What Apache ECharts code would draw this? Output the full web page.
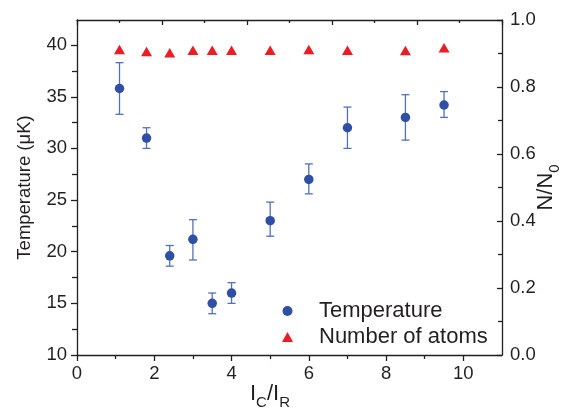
<!DOCTYPE html>
<html>
<head>
<meta charset="utf-8">
<script src="https://cdn.jsdelivr.net/npm/echarts@6/dist/echarts.min.js"></script>
<style>
  html, body { margin: 0; padding: 0; background: #ffffff; }
  #chart { width: 571px; height: 412px; }
</style>
</head>
<body>
<div id="chart"></div>
<script>
// Current ratio I_C / I_R for each measurement
const ratio = [1.1, 1.8, 2.4, 3.0, 3.5, 4.0, 5.0, 6.0, 7.0, 8.5, 9.5];
// Measured temperature (μK) with lower / upper error limits
const temperature = [35.8, 31.0, 19.6, 21.2, 15.0, 16.0, 23.0, 27.0, 32.0, 33.0, 34.2];
const tempLow = [33.3, 30.0, 18.6, 19.2, 14.0, 15.0, 21.5, 25.6, 30.0, 30.8, 33.0];
const tempHigh = [38.3, 32.0, 20.6, 23.1, 16.0, 17.0, 24.8, 28.5, 34.0, 35.2, 35.5];
// Remaining atom fraction N/N0
const atomFraction = [0.912, 0.906, 0.902, 0.910, 0.910, 0.910, 0.910, 0.912, 0.910, 0.909, 0.917];
// Labelled (major) and unlabelled (minor) ticks
const xTicks = [0, 2, 4, 6, 8, 10];
const xMinorTicks = [1, 3, 5, 7, 9];
const tempTicks = [10, 15, 20, 25, 30, 35, 40];
const tempMinorTicks = [12.5, 17.5, 22.5, 27.5, 32.5, 37.5];
const fracTicks = [0, 0.2, 0.4, 0.6, 0.8, 1.0];

const INK = '#231f20';
const FONT = '"Liberation Sans", Arial, Helvetica, sans-serif';
const BLUE = '#2f4fa7';
const BAR = '#5370bb';
const RED = '#ec1c24';

const X_RANGE = [0, 11];
const T_RANGE = [10, 42.43];

const tempPoints = ratio.map((x, i) => [x, temperature[i]]);
const tempBars = ratio.map((x, i) => [x, tempLow[i], tempHigh[i]]);
const fracPoints = ratio.map((x, i) => [x, atomFraction[i]]);

const axisLine = { show: true, onZero: false, lineStyle: { color: INK, width: 1.3 } };
const tickLine = { color: INK, width: 1.3 };
const subRich = {
  n: { fontSize: 22, fontFamily: FONT, color: INK, verticalAlign: 'top', lineHeight: 24 },
  s: { fontSize: 15, fontFamily: FONT, color: INK, verticalAlign: 'top', padding: [12, 0, 0, 0] }
};

const chart = echarts.init(document.getElementById('chart'), null, { renderer: 'canvas' });
chart.setOption({
  animation: false,
  backgroundColor: '#ffffff',
  textStyle: { fontFamily: FONT, color: INK },
  grid: { left: 77, right: 69, top: 20, bottom: 57, outerBoundsMode: 'none', containLabel: false },
  legend: {
    orient: 'vertical',
    left: 282,
    top: 300,
    padding: 0,
    itemGap: 4,
    itemWidth: 11,
    itemHeight: 10,
    data: [
      { name: 'Temperature', icon: 'circle', itemStyle: { color: BLUE } },
      { name: 'Number of atoms', icon: 'triangle', itemStyle: { color: RED } }
    ],
    textStyle: { fontSize: 22, color: INK, fontFamily: FONT, padding: [0, 0, 0, 21], lineHeight: 20 }
  },
  xAxis: [
    {
      type: 'value', position: 'bottom', min: X_RANGE[0], max: X_RANGE[1], interval: 2,
      axisLine: axisLine,
      axisTick: { show: true, inside: false, length: 6, customValues: xTicks, lineStyle: tickLine },
      axisLabel: { customValues: xTicks, fontSize: 18.5, color: INK, margin: 9, fontFamily: FONT },
      splitLine: { show: false },
      name: '{n|I}{s|C}{n|/I}{s|R}',
      nameLocation: 'middle',
      nameGap: 28,
      nameMoveOverlap: false,
      nameTextStyle: { padding: [0, 39, 0, 0], rich: subRich }
    },
    {
      type: 'value', position: 'top', min: 0, max: 10, interval: 2,
      axisLine: axisLine,
      axisTick: { show: true, inside: true, length: 5, lineStyle: tickLine },
      minorTick: { show: true, splitNumber: 2, length: 3, lineStyle: tickLine },
      axisLabel: { show: false },
      splitLine: { show: false }
    },
    {
      // minor ticks of the bottom axis
      type: 'value', position: 'bottom', offset: 0, min: X_RANGE[0], max: X_RANGE[1],
      axisLine: { show: false, onZero: false },
      axisTick: { show: true, inside: false, length: 4, customValues: xMinorTicks, lineStyle: tickLine },
      axisLabel: { show: false },
      splitLine: { show: false }
    }
  ],
  yAxis: [
    {
      type: 'value', position: 'left', min: T_RANGE[0], max: T_RANGE[1], interval: 5,
      axisLine: axisLine,
      axisTick: { show: true, inside: false, length: 6, customValues: tempTicks, lineStyle: tickLine },
      axisLabel: { customValues: tempTicks, fontSize: 18.5, color: INK, margin: 10, fontFamily: FONT },
      splitLine: { show: false },
      name: 'Temperature (μK)',
      nameLocation: 'middle',
      nameRotate: 90,
      nameGap: 43,
      nameTextStyle: { fontSize: 18.5, color: INK, fontFamily: FONT }
    },
    {
      type: 'value', position: 'right', min: 0, max: 1, interval: 0.2,
      axisLine: axisLine,
      axisTick: { show: true, inside: true, length: 5, lineStyle: tickLine },
      minorTick: { show: true, splitNumber: 2, length: 4, lineStyle: tickLine },
      axisLabel: {
        customValues: fracTicks, fontSize: 18.5, color: INK, margin: 8, fontFamily: FONT,
        formatter: v => v.toFixed(1)
      },
      splitLine: { show: false },
      name: '{n|N/N}{s|0}',
      nameLocation: 'middle',
      nameRotate: 90,
      nameGap: 33,
      nameMoveOverlap: false,
      nameTextStyle: { rich: subRich }
    },
    {
      // minor ticks of the temperature axis
      type: 'value', position: 'left', offset: 0, min: T_RANGE[0], max: T_RANGE[1],
      axisLine: { show: false, onZero: false },
      axisTick: { show: true, inside: false, length: 5, customValues: tempMinorTicks, lineStyle: tickLine },
      axisLabel: { show: false },
      splitLine: { show: false }
    }
  ],
  series: [
    {
      name: 'Temperature error',
      type: 'custom',
      xAxisIndex: 0,
      yAxisIndex: 0,
      z: 1,
      encode: { x: 0, y: [1, 2] },
      data: tempBars,
      renderItem: function (params, api) {
        const x = api.value(0);
        const lo = api.coord([x, api.value(1)]);
        const hi = api.coord([x, api.value(2)]);
        const cap = 4;
        const style = { stroke: BAR, lineWidth: 1.3, fill: null };
        return {
          type: 'group',
          children: [
            { type: 'line', shape: { x1: lo[0], y1: lo[1], x2: hi[0], y2: hi[1] }, style: style },
            { type: 'line', shape: { x1: lo[0] - cap, y1: lo[1], x2: lo[0] + cap, y2: lo[1] }, style: style },
            { type: 'line', shape: { x1: hi[0] - cap, y1: hi[1], x2: hi[0] + cap, y2: hi[1] }, style: style }
          ]
        };
      }
    },
    {
      name: 'Temperature',
      type: 'scatter',
      xAxisIndex: 0,
      yAxisIndex: 0,
      z: 3,
      symbol: 'circle',
      symbolSize: 9.5,
      itemStyle: { color: BLUE, opacity: 1 },
      data: tempPoints
    },
    {
      name: 'Number of atoms',
      type: 'scatter',
      xAxisIndex: 0,
      yAxisIndex: 1,
      z: 3,
      symbol: 'triangle',
      symbolSize: [11, 9.5],
      itemStyle: { color: RED, opacity: 1 },
      data: fracPoints
    }
  ]
});
</script>
</body>
</html>
